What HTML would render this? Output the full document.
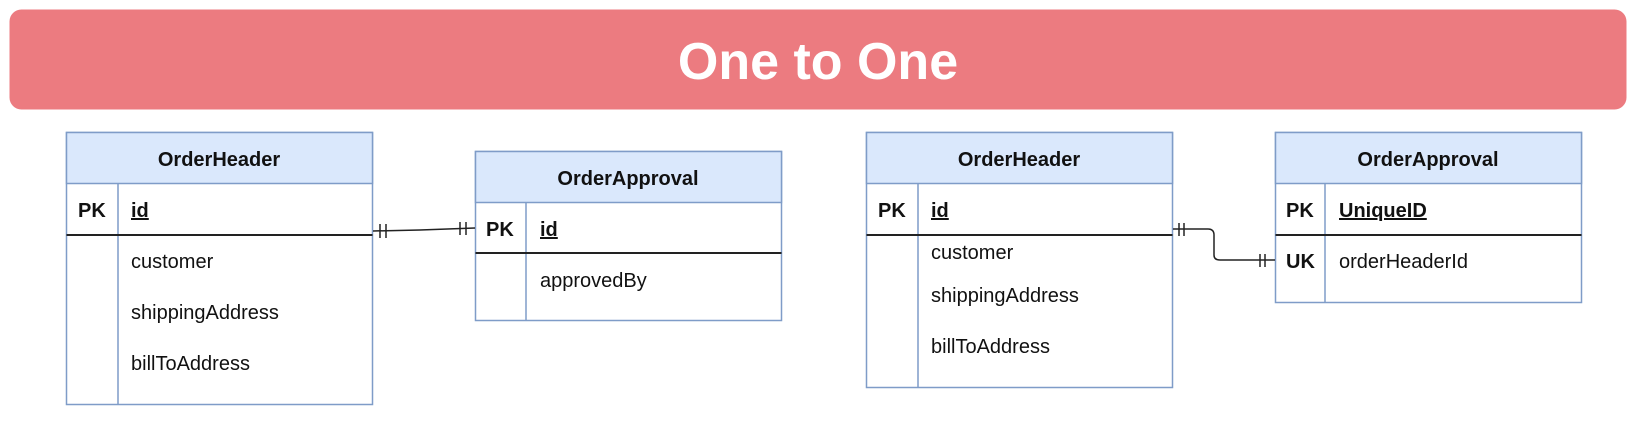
<!DOCTYPE html>
<html><head><style>
body{margin:0;width:1646px;height:442px;background:#fff;overflow:hidden;font-family:"Liberation Sans",Arial,sans-serif}
</style></head><body>
<svg width="1646" height="442" viewBox="0 0 1646 442" xmlns="http://www.w3.org/2000/svg" font-family="Liberation Sans, Arial, sans-serif">
<rect x="9.5" y="9.5" width="1617" height="100" rx="12" fill="#ec7b80"/>
<text x="818" y="79" text-anchor="middle" font-size="52" font-weight="bold" fill="#fff">One to One</text>

<g stroke="#7f9cc8" stroke-width="1.5">
<rect x="66.5" y="132.5" width="306" height="272" fill="#fff"/>
<rect x="66.5" y="132.5" width="306" height="51" fill="#dae8fc"/>
<line x1="118" y1="183" x2="118" y2="404"/>
<rect x="475.5" y="151.5" width="306" height="169" fill="#fff"/>
<rect x="475.5" y="151.5" width="306" height="51" fill="#dae8fc"/>
<line x1="526" y1="202" x2="526" y2="320"/>
<rect x="866.5" y="132.5" width="306" height="255" fill="#fff"/>
<rect x="866.5" y="132.5" width="306" height="51" fill="#dae8fc"/>
<line x1="918" y1="183" x2="918" y2="387"/>
<rect x="1275.5" y="132.5" width="306" height="170" fill="#fff"/>
<rect x="1275.5" y="132.5" width="306" height="51" fill="#dae8fc"/>
<line x1="1325" y1="183" x2="1325" y2="302"/>
</g>
<g stroke="#222" stroke-width="2">
<line x1="66.5" y1="235" x2="372.5" y2="235"/>
<line x1="475.5" y1="253" x2="781.5" y2="253"/>
<line x1="866.5" y1="235" x2="1172.5" y2="235"/>
<line x1="1275.5" y1="235" x2="1581.5" y2="235"/>
</g>
<g stroke="#222" stroke-width="1.5" fill="none">
<path d="M373 231 L420 230 L475 228"/>
<line x1="380" y1="224" x2="380" y2="238"/><line x1="386" y1="224" x2="386" y2="238"/>
<line x1="460" y1="222" x2="460" y2="235"/><line x1="466" y1="222" x2="466" y2="235"/>
<path d="M1173 229 L1208 229 Q1214 229 1214 235 L1214 255 Q1214 260 1220 260 L1275 260"/>
<line x1="1179" y1="223" x2="1179" y2="236"/><line x1="1184" y1="223" x2="1184" y2="236"/>
<line x1="1260" y1="254" x2="1260" y2="267"/><line x1="1265" y1="254" x2="1265" y2="267"/>
</g>
<g font-size="20" fill="#111">
<text x="219" y="166" text-anchor="middle" font-weight="bold">OrderHeader</text>
<text x="78" y="217" font-weight="bold">PK</text>
<text x="131" y="217" font-weight="bold" text-decoration="underline">id</text>
<text x="131" y="268">customer</text>
<text x="131" y="319">shippingAddress</text>
<text x="131" y="370">billToAddress</text>

<text x="628" y="185" text-anchor="middle" font-weight="bold">OrderApproval</text>
<text x="486" y="236" font-weight="bold">PK</text>
<text x="540" y="236" font-weight="bold" text-decoration="underline">id</text>
<text x="540" y="287">approvedBy</text>

<text x="1019" y="166" text-anchor="middle" font-weight="bold">OrderHeader</text>
<text x="878" y="217" font-weight="bold">PK</text>
<text x="931" y="217" font-weight="bold" text-decoration="underline">id</text>
<text x="931" y="259">customer</text>
<text x="931" y="302">shippingAddress</text>
<text x="931" y="353">billToAddress</text>

<text x="1428" y="166" text-anchor="middle" font-weight="bold">OrderApproval</text>
<text x="1286" y="217" font-weight="bold">PK</text>
<text x="1339" y="217" font-weight="bold" text-decoration="underline">UniqueID</text>
<text x="1286" y="268" font-weight="bold">UK</text>
<text x="1339" y="268">orderHeaderId</text>
</g>
</svg>
</body></html>
